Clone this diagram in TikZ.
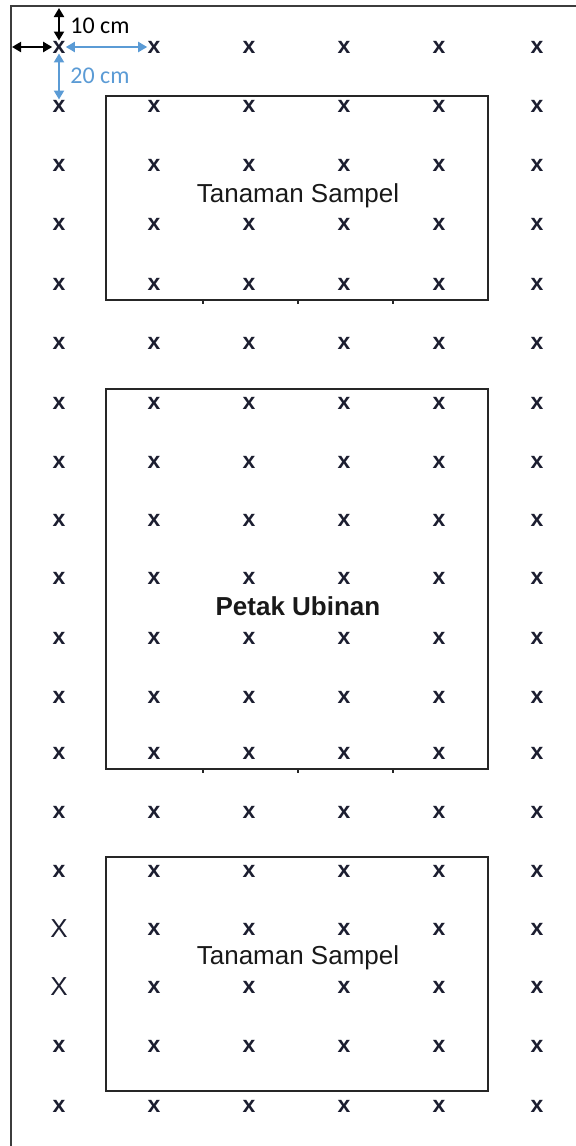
\documentclass[tikz,border=0pt]{standalone}
\usepackage{fontspec}
\setmainfont{Liberation Sans}
\newfontfamily\dimfont{Carlito}
\usepackage{tikz}
\usetikzlibrary{positioning, arrows.meta}
\definecolor{ink}{RGB}{28,30,48}
\definecolor{dimblue}{RGB}{91,155,213}
\definecolor{edge}{RGB}{60,60,60}

\begin{document}
\begin{tikzpicture}[
  x=0.5pt, y=-0.5pt,
  plant/.style={inner sep=0pt, text=ink, font=\fontsize{11.5}{12}\selectfont\bfseries},
  plantbig/.style={inner sep=0pt, text=ink, font=\fontsize{13}{14}\selectfont},
  plot/.style={draw=black!85, line width=1pt},
  frame/.style={draw=edge, line width=1pt},
  plotlabel/.style={font=\fontsize{13}{15}\selectfont, text=black!90},
  dimlabel/.style={font=\dimfont\fontsize{12}{13}\selectfont, anchor=west, inner sep=0pt},
  dimarr/.style={{Triangle[length=4.5pt, width=5pt]}-{Triangle[length=4.5pt, width=5pt]}, line width=1pt},
]
  \useasboundingbox (0,0) rectangle (576,1146);

  \draw[frame] (11,1146) -- (11,6) -- (576,6);

  \foreach \yy [count=\r] in {47,106,165,224,284,343,403,462,520,578,638,697,753,812,871,929,987,1046,1106} {
    \foreach \xx [count=\c] in {59,154,249,344,439,537} {
      \def\st{plant}\def\glyph{x}
      \ifnum\c=1 \ifnum\r>15 \ifnum\r<18 \def\st{plantbig}\def\glyph{X}\fi\fi\fi
      \node[\st] (p-\r-\c) at (\xx,\yy) {\glyph};
    }
  }

  \draw[plot] (106,96) rectangle (488,300);
  \draw[plot] (106,389) rectangle (488,769);
  \draw[plot] (106,857) rectangle (488,1091);
  \foreach \tx in {203,298,393} {
    \draw[plot, line width=0.6pt] (\tx,300) -- ++(0,4);
    \draw[plot, line width=0.6pt] (\tx,769) -- ++(0,4);
  }

  \node[plotlabel] (sampleTop) at (298,196) {Tanaman Sampel};
  \node[plotlabel, font=\fontsize{13}{15}\selectfont\bfseries] (ubinan) at (298,606) {Petak Ubinan};
  \node[plotlabel] (sampleBot) at (298,958) {Tanaman Sampel};

  \coordinate (topEdge) at (59,8);
  \coordinate (leftEdge) at (12,47);
  \draw[dimarr, black] (topEdge) -- (p-1-1.north);
  \draw[dimarr, black] (leftEdge) -- (p-1-1.west);
  \draw[dimarr, dimblue] (p-1-1.east) -- (p-1-2.west);
  \draw[dimarr, dimblue] (p-1-1.south) -- (p-2-1.north);
  \node[dimlabel] (tenCm) at (70,26) {10 cm};
  \node[dimlabel, text=dimblue] (twentyCm) at (70,76) {20 cm};
\end{tikzpicture}
\end{document}
